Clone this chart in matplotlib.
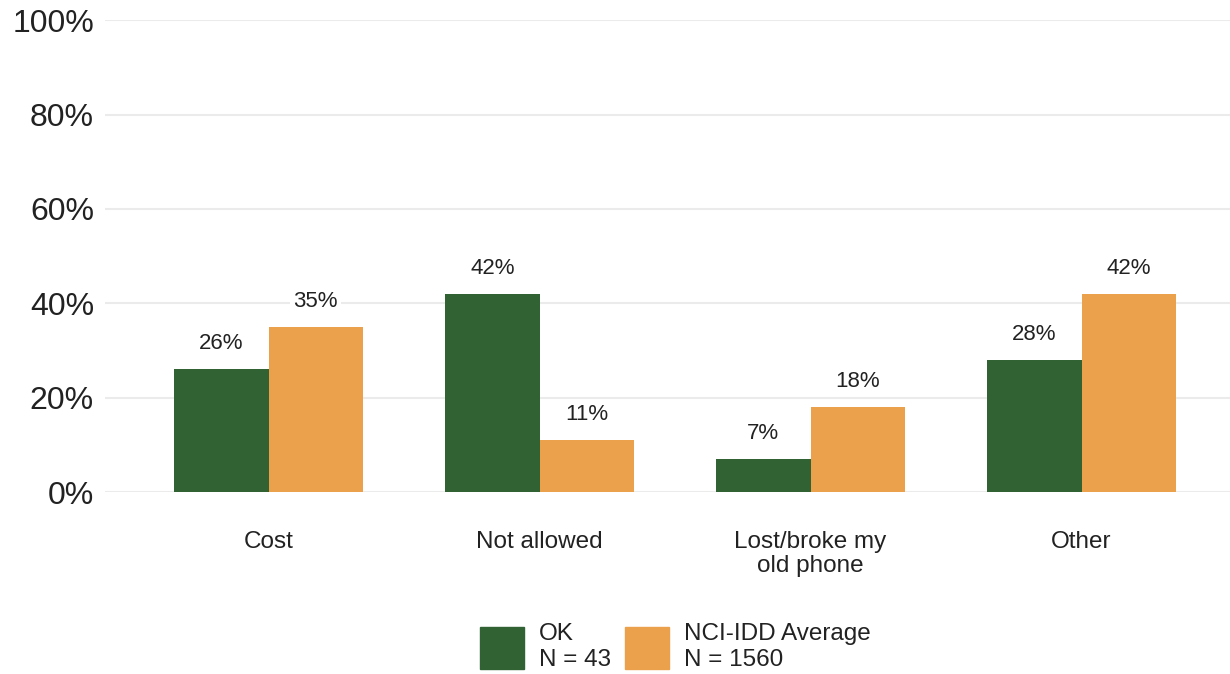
import matplotlib
matplotlib.use("Agg")
import matplotlib.pyplot as plt
import numpy as np
from matplotlib.patches import Patch

categories = ["Cost", "Not allowed", "Lost/broke my\nold phone", "Other"]
ok_values = [26, 42, 7, 28]
nci_values = [35, 11, 18, 42]
series_labels = ["OK\nN = 43", "NCI-IDD Average\nN = 1560"]
yticks = [0, 20, 40, 60, 80, 100]

green = "#316233"
orange = "#EBA04C"

plt.rcParams['font.family'] = ['Liberation Sans', 'DejaVu Sans']

fig = plt.figure(figsize=(12.3, 6.74), dpi=100)
ax = fig.add_axes([0.0854, 0.27, 0.9146, 0.70])

x = np.arange(len(categories))
w = 0.348
b1 = ax.bar(x - w/2, ok_values, w, color=green, zorder=3)
b2 = ax.bar(x + w/2, nci_values, w, color=orange, zorder=3)

for bars, vals in ((b1, ok_values), (b2, nci_values)):
    for r, v in zip(bars, vals):
        ax.annotate(f"{v}%", (r.get_x() + r.get_width()/2, r.get_height()),
                    xytext=(0, 11), textcoords="offset points",
                    ha="center", va="bottom", fontsize=16, color="#222222",
                    bbox=dict(boxstyle="square,pad=0.15", fc="white", ec="none"),
                    zorder=4)

ax.set_ylim(0, 100)
ax.set_xlim(-0.604, 3.548)
ax.set_yticks(yticks)
ax.set_yticklabels([f"{t}%" for t in yticks], fontsize=23, color="#222222")
ax.set_xticks(x)
ax.set_xticklabels(categories, fontsize=17.5, color="#222222", linespacing=1.14)
ax.tick_params(axis="both", length=0)
ax.tick_params(axis="y", pad=8)
ax.tick_params(axis="x", pad=28)
ax.grid(axis="y", color="#ebebeb", linewidth=1.5, zorder=0)
for s in ax.spines.values():
    s.set_visible(False)

handles = [Patch(color=green), Patch(color=orange)]
fig.legend(handles, series_labels, loc="center", bbox_to_anchor=(0.549, 0.040),
           ncol=2, frameon=False, fontsize=17.5, handlelength=1.8, handleheight=2.3,
           handletextpad=0.6, columnspacing=0.6, labelcolor="#222222",
           labelspacing=0.2)

fig.savefig("out.png", dpi=100)
